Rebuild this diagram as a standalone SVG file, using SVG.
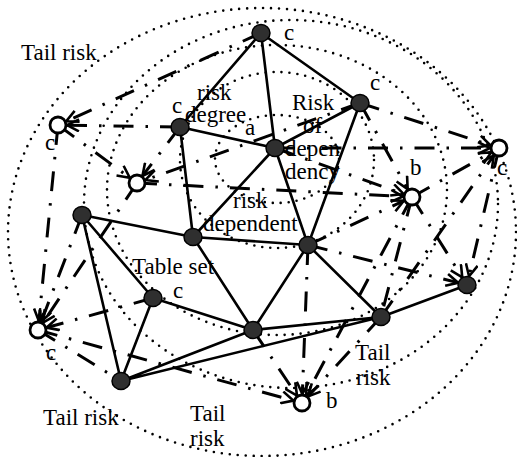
<svg xmlns="http://www.w3.org/2000/svg" width="517" height="457" viewBox="0 0 517 457">
<style>
.e{fill:none;stroke:#000;stroke-width:2.6;stroke-dasharray:0 8;stroke-linecap:round}
.s{fill:none;stroke:#000;stroke-width:2.6}
.d{fill:none;stroke:#000;stroke-width:3;stroke-dasharray:20 12 2.5 12}
.a{marker-end:url(#ar)}
.n{fill:#2f2f2f;stroke:#000;stroke-width:1.5}
.o{fill:#fff;stroke:#000;stroke-width:2.8}
.t{font-family:"Liberation Serif","Times New Roman",Times,serif;font-size:23px;fill:#000}
</style>
<defs>
<marker id="ar" viewBox="0 0 14 14" markerWidth="14" markerHeight="14" refX="22" refY="7" orient="auto" markerUnits="userSpaceOnUse">
<path d="M1,1 L13,7 L1,13" fill="none" stroke="#000" stroke-width="2.6"/>
</marker>
</defs>
<g id="rings">
<ellipse class="e" cx="262" cy="232" rx="254" ry="224"/>
<ellipse class="e" cx="291" cy="204" rx="207" ry="184"/>
<ellipse class="e" cx="277" cy="190" rx="170" ry="145"/>
<ellipse class="e" cx="277" cy="160" rx="97" ry="88"/>
<ellipse class="e" cx="277" cy="159" rx="62" ry="44"/>
</g>
<g id="connectors">
<path class="s" d="M261,33L180,127M261,33L275,148M261,33L360,103M180,127L275,148M275,148L360,103M180,127L193,237M275,148L193,237M275,148L308,245M360,103L308,245M82,215L193,237M193,237L308,245M193,237L253,330M308,245L253,330M308,245L381,317M82,215L153,298M82,215L121,381M153,298L121,381M153,298L253,330M121,381L253,330M121,381L381,317M253,330L381,317M381,317L467,285"/>
<path class="d a" d="M261,33L58,125"/>
<path class="d a" d="M180,127L58,125"/>
<path class="d a" d="M58,125L38,330"/>
<path class="d a" d="M58,125L137,183"/>
<path class="d a" d="M180,127L137,183"/>
<path class="d a" d="M137,183L412,197"/>
<path class="d a" d="M360,103L137,183"/>
<path class="d a" d="M360,103L499,148"/>
<path class="d a" d="M275,148L499,148"/>
<path class="d a" d="M275,148L412,197"/>
<path class="d a" d="M360,103L412,197"/>
<path class="d a" d="M308,245L412,197"/>
<path class="d a" d="M412,197L499,148"/>
<path class="d a" d="M381,317L499,148"/>
<path class="d a" d="M499,148L467,285"/>
<path class="d a" d="M412,197L467,285"/>
<path class="d a" d="M308,245L467,285"/>
<path class="d" d="M412,197L381,317"/>
<path class="d a" d="M308,245L302,403"/>
<path class="d a" d="M412,197L302,403"/>
<path class="d a" d="M381,317L302,403"/>
<path class="d a" d="M253,330L302,403"/>
<path class="d a" d="M38,330L302,403"/>
<path class="d" d="M38,330L121,381"/>
<path class="d a" d="M153,298L38,330"/>
<path class="d a" d="M82,215L38,330"/>
<path class="d a" d="M137,183L38,330"/>
</g>
<g id="N1"><ellipse class="n" cx="261" cy="33" rx="9" ry="8.5"/></g>
<g id="N2"><ellipse class="n" cx="360" cy="103" rx="9" ry="8.5"/></g>
<g id="N3"><ellipse class="n" cx="180" cy="127" rx="9" ry="8.5"/></g>
<g id="N4"><ellipse class="n" cx="275" cy="148" rx="9" ry="8.5"/></g>
<g id="N5"><ellipse class="n" cx="82" cy="215" rx="9" ry="8.5"/></g>
<g id="N6"><ellipse class="n" cx="193" cy="237" rx="9" ry="8.5"/></g>
<g id="N7"><ellipse class="n" cx="308" cy="245" rx="9" ry="8.5"/></g>
<g id="N8"><ellipse class="n" cx="153" cy="298" rx="9" ry="8.5"/></g>
<g id="N9"><ellipse class="n" cx="253" cy="330" rx="9" ry="8.5"/></g>
<g id="N10"><ellipse class="n" cx="381" cy="317" rx="9" ry="8.5"/></g>
<g id="N11"><ellipse class="n" cx="467" cy="285" rx="9" ry="8.5"/></g>
<g id="N12"><ellipse class="n" cx="121" cy="381" rx="9" ry="8.5"/></g>
<g id="O1"><circle class="o" cx="58" cy="125" r="8"/></g>
<g id="O2"><circle class="o" cx="137" cy="183" r="8"/></g>
<g id="O3"><circle class="o" cx="499" cy="148" r="8"/></g>
<g id="O4"><circle class="o" cx="412" cy="197" r="8"/></g>
<g id="O5"><circle class="o" cx="38" cy="330" r="8"/></g>
<g id="O6"><circle class="o" cx="302" cy="403" r="8"/></g>
<g id="labels" font-family="Liberation Serif, Times New Roman, serif" font-size="23">
<text class="t" x="21" y="60">Tail risk</text>
<text class="t" x="284" y="40">c</text>
<text class="t" x="370" y="90">c</text>
<text class="t" x="197" y="100">risk</text>
<text class="t" x="172" y="113">c</text>
<text class="t" x="185" y="122">degree</text>
<text class="t" x="245" y="135">a</text>
<text class="t" x="292" y="110">Risk</text>
<text class="t" x="303" y="133">of</text>
<text class="t" x="285" y="156">depen</text>
<text class="t" x="285" y="179">dency</text>
<text class="t" x="410" y="175">b</text>
<text class="t" x="497" y="175">c</text>
<text class="t" x="45" y="150">c</text>
<text class="t" x="233" y="208">risk</text>
<text class="t" x="203" y="231">dependent</text>
<text class="t" x="132" y="274">Table set</text>
<text class="t" x="173" y="298">c</text>
<text class="t" x="46" y="360">c</text>
<text class="t" x="43" y="425">Tail risk</text>
<text class="t" x="190" y="421">Tail</text>
<text class="t" x="190" y="446">risk</text>
<text class="t" x="355" y="360">Tail</text>
<text class="t" x="356" y="385">risk</text>
<text class="t" x="326" y="408">b</text>
</g>
</svg>
